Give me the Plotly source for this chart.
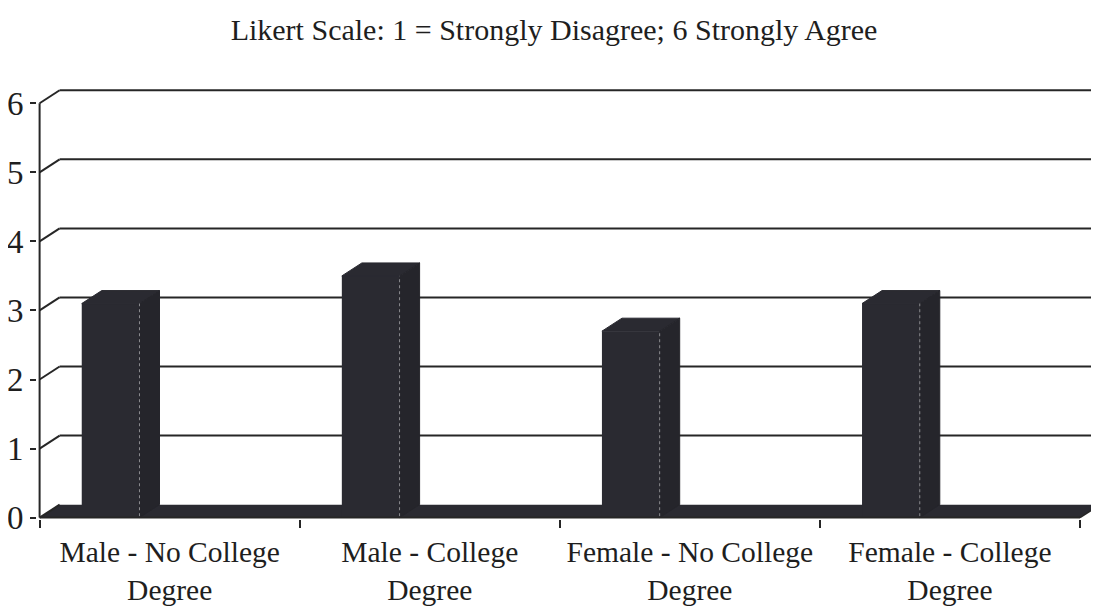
import plotly.graph_objects as go

# ---------------- data ----------------
categories = ["Male - No College", "Male - College", "Female - No College", "Female - College"]
category_line2 = ["Degree", "Degree", "Degree", "Degree"]
values = [3.1, 3.5, 2.7, 3.1]
y_ticks = [0, 1, 2, 3, 4, 5, 6]
title_text = "Likert Scale: 1 = Strongly Disagree; 6 Strongly Agree"

# ---------------- style ----------------
DX = 0.077      # depth offset in x units
DY = 0.188      # depth offset in y units
BAR_OFF = -0.338
BAR_W = 0.222
BAR_COLOR = "#2a2a31"
LINE = "#262626"
FONT = "Liberation Serif, Times New Roman, serif"

pos = list(range(len(categories)))
x_lo, x_hi = -0.5, len(categories) - 0.5
X_MIN, X_MAX = -0.51, 3.5731
Y_MIN, Y_MAX = -0.02, 6.25

fig = go.Figure()
shapes = []

# floor (dark slab)
shapes.append(dict(type="path", xref="x", yref="y",
                   path=f"M {x_lo},0 L {x_hi},0 L {x_hi + DX},{DY} L {x_lo + DX},{DY} Z",
                   fillcolor=BAR_COLOR, line=dict(width=0), layer="below"))

# back wall gridlines + side wall diagonals
for t in y_ticks:
    shapes.append(dict(type="line", xref="x", yref="y", x0=x_lo, y0=t, x1=x_lo + DX, y1=t + DY,
                       line=dict(color=LINE, width=2), layer="below"))
    if t > 0:
        shapes.append(dict(type="line", xref="x", yref="y", x0=x_lo + DX, y0=t + DY, x1=X_MAX, y1=t + DY,
                           line=dict(color=LINE, width=2), layer="below"))

# front axis lines
shapes.append(dict(type="line", xref="x", yref="y", x0=x_lo, y0=0, x1=x_lo, y1=max(y_ticks),
                   line=dict(color=LINE, width=2)))
shapes.append(dict(type="line", xref="x", yref="y", x0=x_lo, y0=0, x1=x_hi, y1=0,
                   line=dict(color=LINE, width=2)))
shapes.append(dict(type="line", xref="x", yref="y", x0=x_hi, y0=0, x1=x_hi + DX, y1=DY,
                   line=dict(color=LINE, width=1.5)))

# front faces of the columns
fig.add_trace(go.Bar(x=pos, y=values, width=BAR_W, offset=BAR_OFF,
                     marker=dict(color=BAR_COLOR, line=dict(width=0)), hoverinfo="skip"))

# top and side faces
tx, ty, sx, sy, ex, ey = [], [], [], [], [], []
for p, v in zip(pos, values):
    l = p + BAR_OFF
    r = l + BAR_W
    tx += [l, r, r + DX, l + DX, l, None]
    ty += [v, v, v + DY, v + DY, v, None]
    sx += [r, r, r + DX, r + DX, r, None]
    sy += [0, v, v + DY, DY, 0, None]
    ex += [r, r, None]
    ey += [0.02, v, None]

fig.add_trace(go.Scatter(x=tx, y=ty, mode="lines", fill="toself", fillcolor=BAR_COLOR,
                         line=dict(color=BAR_COLOR, width=1), hoverinfo="skip"))
fig.add_trace(go.Scatter(x=sx, y=sy, mode="lines", fill="toself", fillcolor="#25252b",
                         line=dict(color="#25252b", width=1), hoverinfo="skip"))
fig.add_trace(go.Scatter(x=ex, y=ey, mode="lines", line=dict(color="#8c8c90", width=1, dash="dot"),
                         hoverinfo="skip"))

ticktext = [f"{a}<br>{b}" for a, b in zip(categories, category_line2)]

# page body has an 8px margin: figure is sized/offset to compensate
fig.update_layout(
    width=1091, height=602,
    margin=dict(l=29, r=0, t=78, b=91),
    paper_bgcolor="white", plot_bgcolor="white",
    showlegend=False,
    shapes=shapes,
    font=dict(family=FONT, color="#1e1e1e"),
    title=dict(text=title_text, font=dict(family=FONT, size=30, color="#1e1e1e"),
               x=0.5005, xref="container", xanchor="center",
               y=1 - 21 / 602, yref="container", yanchor="middle"),
    xaxis=dict(range=[X_MIN, X_MAX], tickvals=pos, ticktext=ticktext, ticks="",
               showgrid=False, zeroline=False, showline=False, automargin=False,
               tickfont=dict(family=FONT, size=29.5, color="#1e1e1e"),
               ticklabelstandoff=12,
               minor=dict(tick0=-0.5, dtick=1, ticks="outside", ticklen=8, tickwidth=2,
                          tickcolor=LINE, showgrid=False)),
    yaxis=dict(range=[Y_MIN, Y_MAX], tickvals=y_ticks, ticks="outside", ticklen=6, tickwidth=2,
               tickcolor=LINE, showgrid=False, zeroline=False, showline=False, automargin=False,
               tickfont=dict(family=FONT, size=33, color="#1e1e1e")),
)

fig.write_html("out.html")
